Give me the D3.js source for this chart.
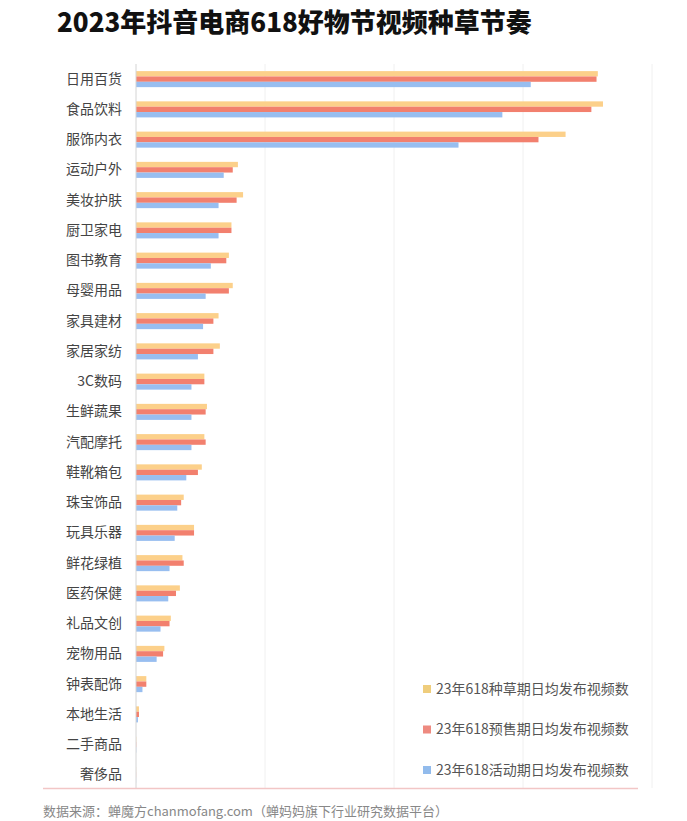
<!DOCTYPE html>
<html><head><meta charset="utf-8">
<script src="https://cdn.jsdelivr.net/npm/d3@7/dist/d3.min.js"></script>
<style>body{margin:0;background:#fff;}svg{display:block;font-family:"Noto Sans CJK SC","Noto Sans",sans-serif;}</style>
</head><body><svg id="c" width="687" height="821"></svg>
<script>
const title = "2023年抖音电商618好物节视频种草节奏";
const categories = ["日用百货","食品饮料","服饰内衣","运动户外","美妆护肤","厨卫家电","图书教育","母婴用品","家具建材","家居家纺","3C数码","生鲜蔬果","汽配摩托","鞋靴箱包","珠宝饰品","玩具乐器","鲜花绿植","医药保健","礼品文创","宠物用品","钟表配饰","本地生活","二手商品","奢侈品"];
const seriesNames = ["23年618种草期日均发布视频数","23年618预售期日均发布视频数","23年618活动期日均发布视频数"];
const grass = [358,362,333,79,83,74,72,75,64,65,53,55,53,51,37,45,36,34,27,22,8,2.3,0.2,0.1];
const presale = [357,353,312,75,78,74,70,72,60,60,53,54,54,48,35,45,37,31,26,21,8,2.3,0.2,0.1];
const event = [306,284,250,68,64,64,58,54,52,48,43,43,43,39,32,30,26,25,19,16,5,1.5,0.2,0.1];
const gridTicks = [0,100,200,300,400];
const colors = ["#fcd08a","#f2806e","#98bef0"];
const legendColors = ["#efcd7c","#ee8a80","#92bbec"];
const source = "数据来源：蝉魔方chanmofang.com（蝉妈妈旗下行业研究数据平台）";

const series = [grass, presale, event];
const svg = d3.select("#c");

svg.append("text").attr("x",57).attr("y",32).attr("font-size",26).attr("font-weight",900)
  .attr("fill","#111").text(title);

const x = d3.scaleLinear().domain([0,400]).range([136,652]);
const y = d3.scaleBand().domain(categories).range([64,790]).paddingInner(0.47).paddingOuter(0.235);
const ySub = d3.scaleBand().domain([0,1,2]).range([0,y.bandwidth()]);

// gridlines
svg.append("g").selectAll("line").data(gridTicks.slice(1)).join("line")
  .attr("x1",d=>x(d)).attr("x2",d=>x(d)).attr("y1",64).attr("y2",788)
  .attr("stroke","#f0f0f0").attr("stroke-width",1);

// bars
const g = svg.append("g");
categories.forEach((c,i)=>{
  series.forEach((s,k)=>{
    g.append("rect").attr("x",x(0)).attr("y",y(c)+ySub(k))
      .attr("width",Math.max(0,x(s[i])-x(0))).attr("height",ySub.bandwidth())
      .attr("fill",colors[k]);
  });
});

// y axis
const yAxis = svg.append("g").attr("transform","translate(136,0)")
  .call(d3.axisLeft(y).tickSize(0).tickPadding(14));
yAxis.select(".domain").attr("stroke","#d4d4d4").attr("d","M0,64V788");
yAxis.selectAll("text").attr("font-size",14).attr("fill","#444")
  .attr("font-family","'Noto Sans CJK SC','Noto Sans',sans-serif");

// bottom line
svg.append("line").attr("x1",43).attr("x2",638).attr("y1",788.5).attr("y2",788.5)
  .attr("stroke","#f2c6c6").attr("stroke-width",1.5);

// legend
const lg = svg.append("g");
seriesNames.forEach((n,k)=>{
  const yy = 689 + k*40.5;
  lg.append("rect").attr("x",423).attr("y",yy-4).attr("width",8).attr("height",8).attr("fill",legendColors[k]);
  lg.append("text").attr("x",436).attr("y",yy).attr("dy","0.35em").attr("font-size",14)
    .attr("fill","#555").text(n);
});

svg.append("text").attr("x",43).attr("y",811).attr("dy","0.35em").attr("font-size",13)
  .attr("fill","#888").text(source);
</script></body></html>
